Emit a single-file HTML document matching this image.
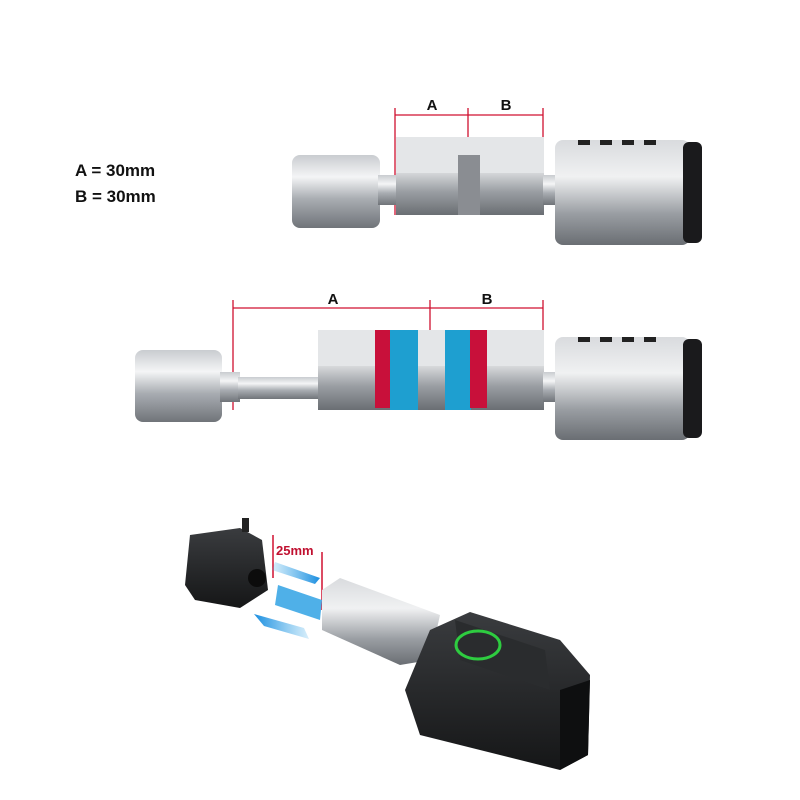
<!DOCTYPE html>
<html><head><style>
html,body{margin:0;padding:0;background:#fff;width:800px;height:800px;overflow:hidden}
svg{display:block}
text{font-family:"Liberation Sans",sans-serif}
</style></head><body>
<svg width="800" height="800" viewBox="0 0 800 800">
<defs>
<linearGradient id="met" x1="0" y1="0" x2="0" y2="1">
<stop offset="0" stop-color="#c9ccd0"/><stop offset="0.3" stop-color="#f4f5f6"/><stop offset="0.6" stop-color="#a9adb2"/><stop offset="1" stop-color="#707479"/></linearGradient>
<linearGradient id="body" x1="0" y1="0" x2="0" y2="1">
<stop offset="0" stop-color="#d9dbde"/><stop offset="0.35" stop-color="#f0f1f2"/><stop offset="0.7" stop-color="#9a9ea3"/><stop offset="1" stop-color="#6a6e73"/></linearGradient>
<linearGradient id="blk" x1="0" y1="0" x2="0" y2="1">
<stop offset="0" stop-color="#3a3c3f"/><stop offset="1" stop-color="#151617"/></linearGradient>
<linearGradient id="blue" x1="0" y1="0" x2="1" y2="0">
<stop offset="0" stop-color="#3aa8e8" stop-opacity="0.2"/><stop offset="1" stop-color="#1b8ee0"/></linearGradient>
</defs>

<text x="75" y="176" font-size="17" font-weight="bold" fill="#111">A = 30mm</text>
<text x="75" y="202" font-size="17" font-weight="bold" fill="#111">B = 30mm</text>

<!-- TOP -->
<g stroke="#d01030" stroke-width="1.3" fill="none">
<line x1="395" y1="115" x2="543" y2="115"/>
<line x1="395" y1="108" x2="395" y2="215"/>
<line x1="468" y1="108" x2="468" y2="140"/>
<line x1="543" y1="108" x2="543" y2="215"/>
</g>
<text x="432" y="110" font-size="15" font-weight="bold" text-anchor="middle" fill="#111">A</text>
<text x="506" y="110" font-size="15" font-weight="bold" text-anchor="middle" fill="#111">B</text>
<rect x="292" y="155" width="88" height="73" rx="8" fill="url(#met)"/>
<rect x="378" y="175" width="20" height="30" fill="url(#met)"/>
<rect x="396" y="137" width="148" height="78" fill="url(#body)"/>
<rect x="396" y="137" width="148" height="36" fill="#e4e6e8"/>
<rect x="458" y="155" width="22" height="60" fill="#8a8d92"/>
<rect x="543" y="175" width="14" height="30" fill="url(#met)"/>
<rect x="555" y="140" width="135" height="105" rx="8" fill="url(#body)"/>
<rect x="683" y="142" width="19" height="101" rx="6" fill="#1a1a1c"/>
<g fill="#222"><rect x="578" y="140" width="12" height="5"/><rect x="600" y="140" width="12" height="5"/><rect x="622" y="140" width="12" height="5"/><rect x="644" y="140" width="12" height="5"/></g>

<!-- MIDDLE -->
<g stroke="#d01030" stroke-width="1.3" fill="none">
<line x1="233" y1="308" x2="543" y2="308"/>
<line x1="233" y1="300" x2="233" y2="410"/>
<line x1="430" y1="300" x2="430" y2="335"/>
<line x1="543" y1="300" x2="543" y2="410"/>
</g>
<text x="333" y="304" font-size="15" font-weight="bold" text-anchor="middle" fill="#111">A</text>
<text x="487" y="304" font-size="15" font-weight="bold" text-anchor="middle" fill="#111">B</text>
<rect x="135" y="350" width="87" height="72" rx="8" fill="url(#met)"/>
<rect x="220" y="372" width="20" height="30" fill="url(#met)"/>
<rect x="238" y="377" width="82" height="22" fill="url(#met)"/>
<rect x="318" y="330" width="226" height="80" fill="url(#body)"/>
<rect x="318" y="330" width="226" height="36" fill="#e4e6e8"/>
<rect x="375" y="330" width="18" height="78" fill="#c8103a"/>
<rect x="390" y="330" width="28" height="80" fill="#1e9fd0"/>
<rect x="445" y="330" width="26" height="80" fill="#1e9fd0"/>
<rect x="470" y="330" width="17" height="78" fill="#c8103a"/>
<rect x="543" y="372" width="14" height="30" fill="url(#met)"/>
<rect x="555" y="337" width="135" height="103" rx="8" fill="url(#body)"/>
<rect x="683" y="339" width="19" height="99" rx="6" fill="#1a1a1c"/>
<g fill="#222"><rect x="578" y="337" width="12" height="5"/><rect x="600" y="337" width="12" height="5"/><rect x="622" y="337" width="12" height="5"/><rect x="644" y="337" width="12" height="5"/></g>

<!-- BOTTOM -->
<path d="M190 535 L240 528 L262 540 L268 590 L240 608 L195 600 L185 585 Z" fill="url(#blk)"/>
<rect x="242" y="518" width="7" height="14" fill="#222"/>
<circle cx="257" cy="578" r="9" fill="#0c0c0c"/>
<g stroke="#d01030" stroke-width="1.5">
<line x1="273" y1="535" x2="273" y2="578"/>
<line x1="322" y1="552" x2="322" y2="610"/>
</g>
<text x="276" y="555" font-size="13" font-weight="bold" fill="#c01030">25mm</text>
<path d="M275 562 L320 578 L315 584 L272 570 Z" fill="url(#blue)"/>
<path d="M278 585 L322 600 L320 620 L275 605 Z" fill="#4fb0e8"/>
<path d="M255 615 L300 628 L310 640 L260 626 Z" fill="url(#blue)" transform="rotate(180 282 627)"/>
<path d="M322 590 L340 578 L440 615 L430 660 L400 665 L322 630 Z" fill="url(#body)"/>
<path d="M430 630 L470 612 L560 640 L590 675 L588 755 L560 770 L420 735 L405 690 Z" fill="url(#blk)"/>
<path d="M455 620 L545 650 L550 690 L460 660 Z" fill="#2a2c2e"/>
<ellipse cx="478" cy="645" rx="22" ry="14" fill="none" stroke="#2ecc40" stroke-width="3"/>
<path d="M560 690 L590 680 L588 755 L560 770 Z" fill="#0e0f10"/>
</svg>
</body></html>
